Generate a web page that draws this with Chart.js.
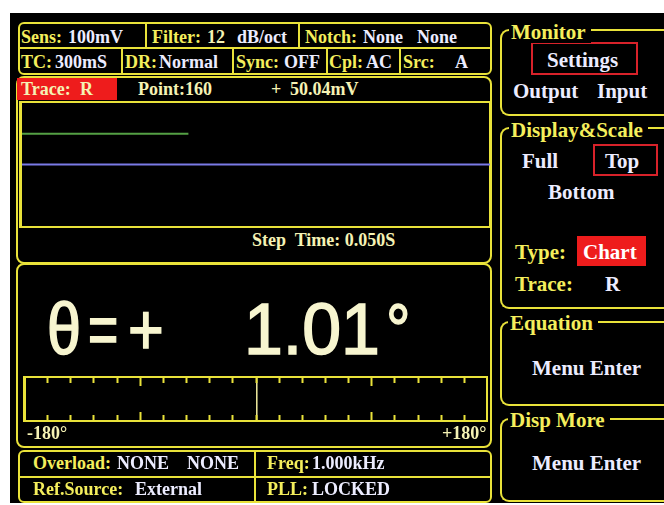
<!DOCTYPE html>
<html>
<head>
<meta charset="utf-8">
<script src="https://cdn.jsdelivr.net/npm/chart.js@4.4.1/dist/chart.umd.min.js"></script>
<style>
  body { margin: 0; width: 664px; height: 505px; background: #fff; position: relative; overflow: hidden; }
  #screen { position: absolute; left: 10px; top: 13px; width: 654px; height: 490px; background: #000; }
  .box { position: absolute; box-sizing: border-box; border: 2px solid #e9e23a; }
  .line { position: absolute; background: #e9e23a; }
  .grp { position: absolute; box-sizing: border-box; border: 2px solid #e9e23a; border-right: none;
         border-radius: 9px 0 0 9px; }
  .t { position: absolute; white-space: pre; font-family: "Liberation Serif", "DejaVu Serif", serif;
       font-weight: bold; font-size: 18px; line-height: 18px; }
  .y { color: #f4ee5c; }
  .w { color: #ececff; }
  .c { color: #f5f2b4; }
  .r { color: #fff; }
  .big { position: absolute; font-family: "Liberation Sans", Arial, sans-serif; font-size: 72px;
         font-weight: normal; line-height: 72px; color: #f7f5cf; white-space: pre;
         -webkit-text-stroke: 1.6px #f7f5cf; transform-origin: 0 50%; }
  canvas { position: absolute; }
</style>
</head>
<body>
<div id="screen"></div>

<!-- top info box -->
<div class="box" style="left:18px;top:22px;width:474px;height:53px;border-radius:6px"></div>
<div class="line" style="left:18px;top:47px;width:474px;height:2px"></div>
<div class="line" style="left:145px;top:22px;width:2px;height:26px"></div>
<div class="line" style="left:298px;top:22px;width:2px;height:26px"></div>
<div class="line" style="left:121px;top:48px;width:2px;height:27px"></div>
<div class="line" style="left:232px;top:48px;width:2px;height:27px"></div>
<div class="line" style="left:326px;top:48px;width:2px;height:27px"></div>
<div class="line" style="left:399px;top:48px;width:2px;height:27px"></div>

<!-- trace panel -->
<div class="box" style="left:16px;top:76px;width:476px;height:188px;border-radius:8px"></div>
<div style="position:absolute;left:17px;top:78px;width:100px;height:22px;background:#ee1c1c"></div>
<div class="box" style="left:19px;top:101px;width:472px;height:127px;border-left-width:3px"></div>
<canvas id="traceChart" width="468" height="123" style="left:22px;top:103px"></canvas>

<!-- readout panel -->
<div class="box" style="left:16px;top:263px;width:476px;height:185px;border-radius:8px"></div>
<canvas id="phaseChart" width="463" height="44" style="left:24px;top:377px"></canvas>
<div class="box" style="left:23px;top:376px;width:465px;height:46px;border-left-width:3px"></div>

<!-- status box -->
<div class="box" style="left:18px;top:450px;width:474px;height:53px;border-radius:6px"></div>
<div class="line" style="left:18px;top:476px;width:474px;height:2px"></div>
<div class="line" style="left:254px;top:450px;width:2px;height:53px"></div>

<!-- right menu groups -->
<div class="grp" style="left:500px;top:29px;width:170px;height:87px"></div>
<div class="grp" style="left:500px;top:127px;width:170px;height:182px"></div>
<div class="grp" style="left:500px;top:321px;width:170px;height:85px"></div>
<div class="grp" style="left:500px;top:418px;width:170px;height:84px"></div>
<div class="box" style="left:531px;top:42px;width:107px;height:33px;border-color:#d8222a"></div>
<div class="box" style="left:593px;top:144px;width:65px;height:32px;border-color:#d8222a"></div>
<div style="position:absolute;left:577px;top:236px;width:69px;height:30px;background:#ee1c1c"></div>

<div id="texts"></div>

<script>
// trace data (Trace R vs. point index, mV)
const traceIndex = [0, 160];
const traceR = [50.04, 50.04];
const refIndex = [0, 450];
const refLevel = [0, 0];
const sensRange = [-100, 100];   // Sens: 100mV
const pointCount = 450;

// phase bar
const phaseValue = 1.01;
const phaseTickValues = [-180, -162, -144, -126, -108, -90, -72, -54, -36, -18, 0,
                         18, 36, 54, 72, 90, 108, 126, 144, 162, 180];
const phaseMajorTicks = [-90, 90];

// text runs: x, center y, text, colour class, font size
const labels = [
    [21, 37, 'Sens:', 'y'], [68, 37, '100mV', 'w'],
    [152, 37, 'Filter:', 'y'], [207, 37, '12', 'c'], [237, 37, 'dB/oct', 'w'],
    [305, 37, 'Notch:', 'y'], [363, 37, 'None', 'w'], [417, 37, 'None', 'w'],
    [21, 62, 'TC:', 'y'], [55, 62, '300mS', 'w'],
    [125, 62, 'DR:', 'y'], [159, 62, 'Normal', 'w'],
    [236, 62, 'Sync:', 'y'], [284, 62, 'OFF', 'w'],
    [329, 62, 'Cpl:', 'y'], [366, 62, 'AC', 'w'],
    [403, 62, 'Src:', 'y'], [455, 62, 'A', 'w'],
    [21, 89, 'Trace:', 'c'], [80, 89, 'R', 'c'],
    [138, 89, 'Point:160', 'c'], [271, 89, '+', 'c'], [290, 89, '50.04mV', 'c'],
    [252, 240, 'Step  Time: 0.050S', 'c'],
    [27, 433, '-180°', 'c'], [442, 433, '+180°', 'c'],
    [33, 463, 'Overload:', 'y'], [117, 463, 'NONE', 'w'], [187, 463, 'NONE', 'w'],
    [267, 463, 'Freq:', 'y'], [312, 463, '1.000kHz', 'w'],
    [33, 489, 'Ref.Source:', 'y'], [135, 489, 'External', 'w'],
    [267, 489, 'PLL:', 'y'], [312, 489, 'LOCKED', 'w'],
    [511, 32, 'Monitor', 'y', 21], [547, 60, 'Settings', 'w', 21],
    [513, 91, 'Output', 'w', 21], [597, 91, 'Input', 'w', 21],
    [511, 130, 'Display&Scale', 'y', 21],
    [522, 161, 'Full', 'w', 21], [605, 161, 'Top', 'w', 21], [548, 192, 'Bottom', 'w', 21],
    [515, 252, 'Type:', 'y', 21], [583, 252, 'Chart', 'r', 21],
    [515, 284, 'Trace:', 'y', 21], [605, 284, 'R', 'w', 21],
    [510, 323, 'Equation', 'y', 21], [532, 368, 'Menu Enter', 'w', 21],
    [510, 420, 'Disp More', 'y', 21], [532, 463, 'Menu Enter', 'w', 21]
];
const titles = ['Monitor', 'Display&Scale', 'Equation', 'Disp More'];

const holder = document.getElementById('texts');
labels.forEach(function (l) {
    const size = l[4] || 18;
    const el = document.createElement('div');
    el.className = 't ' + l[3];
    el.textContent = l[2];
    el.style.left = l[0] + 'px';
    el.style.top = (l[1] - size / 2) + 'px';
    el.style.fontSize = size + 'px';
    el.style.lineHeight = size + 'px';
    if (titles.indexOf(l[2]) >= 0) {
        el.style.background = '#000';
        el.style.padding = '0 5px 0 2px';
        el.style.marginLeft = '-2px';
    }
    holder.appendChild(el);
});

// big phase readout
[[47, 'θ', 0.85], [88, '=', 0.72], [128, '+', 0.85], [244, '1.01', 0.97], [386, '°', 0.85]].forEach(function (g) {
    const el = document.createElement('div');
    el.className = 'big';
    el.textContent = g[1];
    el.style.left = g[0] + 'px';
    el.style.top = '293px';
    el.style.transform = 'scaleX(' + g[2] + ')';
    holder.appendChild(el);
});

function pts(xs, ys) {
    return xs.map(function (x, i) { return { x: x, y: ys[i] }; });
}

const traceChart = new Chart(document.getElementById('traceChart'), {
    type: 'line',
    data: {
        datasets: [{
            data: pts(traceIndex, traceR),
            borderColor: '#54a044',
            borderWidth: 2
        }, {
            data: pts(refIndex, refLevel),
            borderColor: '#7a7ae6',
            borderWidth: 2
        }]
    },
    options: {
        responsive: false,
        animation: false,
        layout: { padding: 0 },
        elements: { point: { radius: 0 } },
        scales: {
            x: { type: 'linear', min: 0, max: pointCount, display: false },
            y: { min: sensRange[0], max: sensRange[1], display: false }
        },
        plugins: { legend: { display: false }, tooltip: { enabled: false } }
    }
});

// tick marks hanging from top and bottom edges of the phase bar
const phaseTicks = {
    id: 'phaseTicks',
    afterDatasetsDraw(chart) {
        const ctx = chart.ctx;
        const x = chart.scales.x;
        const area = chart.chartArea;
        ctx.save();
        ctx.strokeStyle = '#e9e23a';
        ctx.lineWidth = 2;
        phaseTickValues.forEach(function (v) {
            const px = Math.round(x.getPixelForValue(v)) + 0.5;
            const len = phaseMajorTicks.indexOf(v) >= 0 ? 9 : 6;
            ctx.beginPath();
            ctx.moveTo(px, area.top);
            ctx.lineTo(px, area.top + len);
            ctx.moveTo(px, area.bottom);
            ctx.lineTo(px, area.bottom - len);
            ctx.stroke();
        });
        ctx.restore();
    }
};

const phaseChart = new Chart(document.getElementById('phaseChart'), {
    type: 'scatter',
    data: {
        datasets: [{
            data: [{ x: phaseValue, y: 0 }, { x: phaseValue, y: 1 }],
            showLine: true,
            borderColor: '#f2eea0',
            borderWidth: 1.5,
            pointRadius: 0
        }]
    },
    options: {
        responsive: false,
        animation: false,
        layout: { padding: 0 },
        scales: {
            x: { type: 'linear', min: -180, max: 180, display: false },
            y: { min: 0, max: 1, display: false }
        },
        plugins: { legend: { display: false }, tooltip: { enabled: false } }
    },
    plugins: [phaseTicks]
});
</script>
</body>
</html>
